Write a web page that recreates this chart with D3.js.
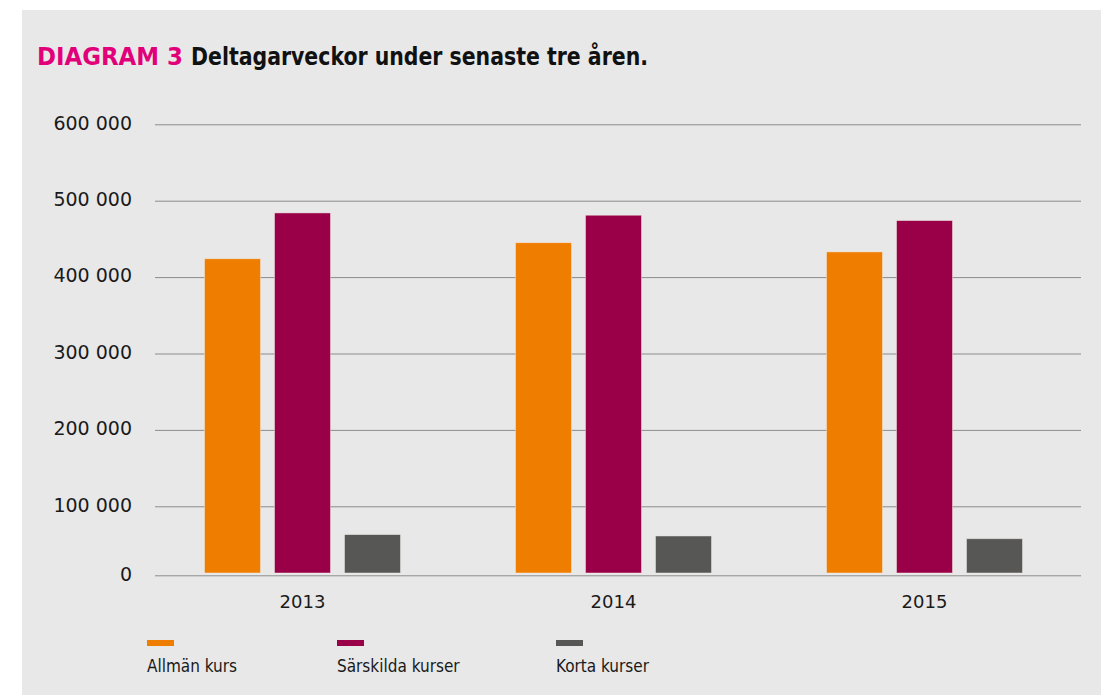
<!DOCTYPE html>
<html>
<head>
<meta charset="utf-8">
<script src="https://cdn.jsdelivr.net/npm/d3@7"></script>
<style>
  body { margin: 0; background: #fff; }
  svg { display: block; }
</style>
</head>
<body>
<div id="chart"></div>
<script>
// Data
const years = ["2013", "2014", "2015"]
const series = ["Allmän kurs", "Särskilda kurser", "Korta kurser"]
const allmanKurs = [424000, 445000, 433000]
const sarskildaKurser = [484000, 481000, 474000]
const kortaKurser = [59000, 57000, 53000]
const yTicks = [0, 100000, 200000, 300000, 400000, 500000, 600000]
const colors = ["#ef7d00", "#9a0047", "#575756"]

const W = 1101, H = 695

const svg = d3.select("#chart")
    .append("svg")
    .attr("width", W)
    .attr("height", H)

// grey panel
svg.append("rect")
    .attr("x", 22).attr("y", 10)
    .attr("width", W - 22).attr("height", H - 10)
    .attr("fill", "#e8e8e8")

// Title, two parts so each can be fitted to its width
const titleFont = "'DejaVu Sans Condensed', 'DejaVu Sans', sans-serif"
svg.append("text")
    .attr("x", 37).attr("y", 65)
    .attr("font-family", titleFont)
    .attr("font-weight", "bold")
    .attr("font-size", 25.5)
    .attr("fill", "#e2007a")
    .attr("textLength", 146)
    .attr("lengthAdjust", "spacingAndGlyphs")
    .text("DIAGRAM 3")
svg.append("text")
    .attr("x", 191).attr("y", 65)
    .attr("font-family", titleFont)
    .attr("font-weight", "bold")
    .attr("font-size", 25.5)
    .attr("fill", "#111")
    .attr("textLength", 457)
    .attr("lengthAdjust", "spacingAndGlyphs")
    .text("Deltagarveckor under senaste tre åren.")

// Scales
const x_left = 155, x_right = 1081
// the zero line sits a bit closer to 100 000 than the other steps
const yScale = d3.scaleLinear()
    .domain([0, 100000, 600000])
    .range([575.3, 506.3, 124.3])

const x0 = d3.scaleBand()
    .domain(years)
    .range([147, 1080])

const x1 = d3.scaleBand()
    .domain(series)
    .range([0, 210])
    .paddingInner(0.2)
    .paddingOuter(0.1)

// Grid + y labels
const yAxis = d3.axisLeft(yScale)
    .tickValues(yTicks)
    .tickSize(-(x_right - x_left))
    .tickPadding(23)
    .tickFormat(d => d3.format(",")(d).replace(/,/g, " "))

const gy = svg.append("g")
    .attr("transform", "translate(" + x_left + ",0)")
    .call(yAxis)
gy.select(".domain").remove()
gy.selectAll(".tick line")
    .attr("stroke", "#8c8c8c")
    .attr("stroke-width", 1)
gy.selectAll(".tick text")
    .attr("font-family", "'DejaVu Sans', sans-serif")
    .attr("font-size", 19)
    .attr("fill", "#1a1a1a")
    .attr("dy", "0.25em")

// Bars
const rows = years.map((y, i) => ({
    year: y,
    values: [allmanKurs[i], sarskildaKurser[i], kortaKurser[i]]
}))

const base = yScale(0) - 2.3

svg.append("g")
    .selectAll("g")
    .data(rows)
    .enter()
    .append("g")
        .attr("transform", d => "translate(" + (x0(d.year) + x0.bandwidth() / 2 - 105) + ",0)")
    .selectAll("rect")
    .data(d => d.values.map((v, j) => ({ key: series[j], value: v, j: j })))
    .enter()
    .append("rect")
        .attr("x", d => x1(d.key))
        .attr("y", d => yScale(d.value))
        .attr("width", x1.bandwidth())
        .attr("height", d => base - yScale(d.value))
        .attr("fill", d => colors[d.j])
        .attr("stroke", "#f4eee8")
        .attr("stroke-opacity", 0.6)
        .attr("stroke-width", 0.8)

// x labels
const xAxis = d3.axisBottom(x0).tickSize(0).tickPadding(0)
const gx = svg.append("g")
    .attr("transform", "translate(0,608)")
    .call(xAxis)
gx.select(".domain").remove()
gx.selectAll(".tick text")
    .attr("font-family", "'DejaVu Sans', sans-serif")
    .attr("font-size", 18)
    .attr("fill", "#1a1a1a")
    .attr("dy", 0)

// Legend
const legendX = [147, 337, 556]
const legend = svg.append("g")
    .selectAll("g")
    .data(series)
    .enter()
    .append("g")
        .attr("transform", (d, i) => "translate(" + legendX[i] + ",0)")

legend.append("rect")
    .attr("x", 0).attr("y", 640)
    .attr("width", 27).attr("height", 6)
    .attr("fill", (d, i) => colors[i])

legend.append("text")
    .attr("x", 0).attr("y", 672)
    .attr("font-family", "'DejaVu Sans Condensed', 'DejaVu Sans', sans-serif")
    .attr("font-size", 17)
    .attr("fill", "#1a1a1a")
    .text(d => d)
</script>
</body>
</html>
